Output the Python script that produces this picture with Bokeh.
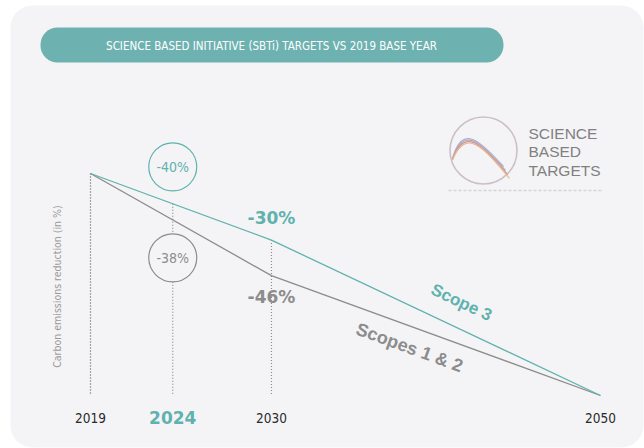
import numpy as np
from bokeh.plotting import figure
from bokeh.models import Range1d
from bokeh.core.properties import value
from bokeh.embed import file_html
from bokeh.resources import INLINE

# ---- data ----
years = [2019, 2030, 2050]
scope3 = [0, -30, -100]          # Scope 3 reduction vs 2019 (%)
scope12 = [0, -46, -100]         # Scopes 1 & 2 reduction vs 2019 (%)
tick_years = [2019, 2024, 2030, 2050]
tick_labels = ["2019", "2024", "2030", "2050"]
highlight_year = 2024
bubble_labels = ["-40%", "-38%"]
bubble_values = [3, -38]
point_labels = ["-30%", "-46%"]
series_names = ["Scope 3", "Scopes 1 & 2"]
title_text = "SCIENCE BASED INITIATIVE (SBTi) TARGETS VS 2019 BASE YEAR"
ylabel_text = "Carbon emissions reduction (in %)"
logo_lines = ["SCIENCE", "BASED", "TARGETS"]

TEAL = "#5fb2ae"
PILL = "#6db2b0"
GRAY = "#8c8c8c"
BG = "#f4f4f6"
NARROW = value("DejaVu Sans Condensed, Roboto, sans-serif")
WIDE = value("DejaVu Sans")
ARIAL = value("Liberation Sans")

W, H = 644, 448
X0, PXY = 90.0, 16.45     # px of 2019, px per year
Y0, PXP = 173.0, 2.22     # px of 0 %, px per percentage point


def dx(px):
    return 2019 + (px - X0) / PXY


def dy(py):
    return (Y0 - py) / PXP


p = figure(width=W, height=H, output_backend="svg", toolbar_location=None,
           x_range=Range1d(dx(0), dx(W)), y_range=Range1d(dy(H), dy(0)),
           x_axis_location=None, y_axis_location=None,
           min_border_left=0, min_border_right=0, min_border_top=0, min_border_bottom=0)
p.background_fill_color = "white"
p.border_fill_color = "white"
p.outline_line_color = None
p.grid.visible = False

# card
p.quad(left=[dx(10)], right=[dx(643)], top=[dy(5)], bottom=[dy(447)],
       fill_color=BG, line_color=None, border_radius=22)

# title pill
p.quad(left=[dx(40)], right=[dx(503)], top=[dy(27)], bottom=[dy(62)],
       fill_color=PILL, line_color=None, border_radius=17)
p.text(x=[dx(271)], y=[dy(45)], text=[title_text], text_font=NARROW,
       text_font_size="11.5px", text_color="white", text_align="center",
       text_baseline="middle")

# dotted guides
s3_mid = float(np.interp(highlight_year, years, scope3))
guide_x = [years[0], highlight_year, years[1]]
guide_top = [scope3[0], s3_mid, scope3[1]]
for gx, gt, col in zip(guide_x, guide_top, ["#555555", "#8a8a8a", "#8a8a8a"]):
    p.line([gx, gx], [gt, scope3[-1]], line_color=col, line_width=1.2, line_dash="1 2")

# series lines
p.line(years, scope12, line_color=GRAY, line_width=1.3)
p.line(years, scope3, line_color=TEAL, line_width=1.3)

# bubbles at highlight year
p.scatter([highlight_year], [bubble_values[0]], size=48, fill_color=BG,
          line_color=TEAL, line_width=1.2)
p.scatter([highlight_year], [bubble_values[1]], size=48, fill_color=BG,
          line_color=GRAY, line_width=1.2)
p.text(x=[highlight_year], y=[bubble_values[0]], text=[bubble_labels[0]], text_font=NARROW,
       text_font_size="14px", text_color=TEAL, text_align="center", text_baseline="middle")
p.text(x=[highlight_year], y=[bubble_values[1]], text=[bubble_labels[1]], text_font=NARROW,
       text_font_size="14px", text_color=GRAY, text_align="center", text_baseline="middle")

# point labels at 2030
p.text(x=[years[1]], y=[scope3[1]], text=[point_labels[0]], text_font=WIDE,
       text_font_style="bold", text_font_size="17px", text_color=TEAL,
       text_align="center", text_baseline="middle", y_offset=-22)
p.text(x=[years[1]], y=[scope12[1]], text=[point_labels[1]], text_font=WIDE,
       text_font_style="bold", text_font_size="17px", text_color=GRAY,
       text_align="center", text_baseline="middle", y_offset=21)

# series names along lines
p.text(x=[dx(461)], y=[dy(302)], text=[series_names[0]], text_font=ARIAL,
       text_font_style="bold", text_font_size="17px", text_color=TEAL,
       text_align="center", text_baseline="middle", angle=-0.44)
p.text(x=[dx(409)], y=[dy(347)], text=[series_names[1]], text_font=ARIAL,
       text_font_style="bold", text_font_size="18px", text_color=GRAY,
       text_align="center", text_baseline="middle", angle=-0.35)

# y label
p.text(x=[dx(56)], y=[dy(286)], text=[ylabel_text], text_font=NARROW,
       text_font_size="10.5px", text_color="#9a9a9a", text_align="center",
       text_baseline="middle", angle=np.pi / 2)

# x tick labels
reg_years = [y for y in tick_years if y != highlight_year]
reg_labels = [l for y, l in zip(tick_years, tick_labels) if y != highlight_year]
p.text(x=reg_years, y=[dy(417)] * len(reg_years), text=reg_labels, text_font=NARROW,
       text_font_size="13.5px", text_color="#2a2a2a", text_align="center", text_baseline="middle")
p.text(x=[highlight_year], y=[dy(417)], text=[tick_labels[tick_years.index(highlight_year)]],
       text_font=WIDE, text_font_style="bold", text_font_size="17px", text_color=TEAL,
       text_align="center", text_baseline="middle")

# logo
p.scatter([dx(483)], [dy(150)], size=67, fill_color=None, line_color="#cdbfc6", line_width=1.6)
for i, col in enumerate(["#9fb0c8", "#b8a8bc", "#d79090", "#e6b890"]):
    p.bezier(x0=[dx(452)], y0=[dy(158 + i * 0.5)],
             cx0=[dx(462 + i)], cy0=[dy(124 + i)],
             cx1=[dx(477 + i * 2)], cy1=[dy(138 + i * 2.5)],
             x1=[dx(503 + i * 2)], y1=[dy(166 + i * 4)],
             line_color=col, line_width=1.2)
p.text(x=[dx(528)] * 3, y=[dy(133), dy(151), dy(170)], text=logo_lines, text_font=ARIAL,
       text_font_size="15.5px", text_color="#808080", text_align="left", text_baseline="middle")
p.line([dx(448), dx(602)], [dy(190), dy(190)], line_color="#d4d4d4", line_width=1.5, line_dash="3 2")

open("out.html", "w").write(file_html(p, INLINE))
